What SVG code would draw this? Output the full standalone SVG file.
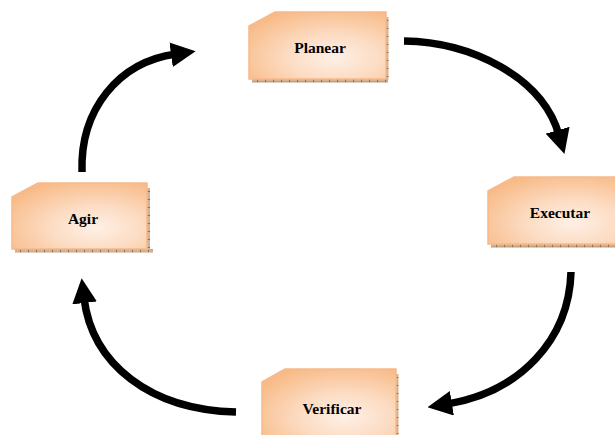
<svg xmlns="http://www.w3.org/2000/svg" width="615" height="435" viewBox="0 0 615 435">
  <defs>
    <radialGradient id="boxFill" cx="0.62" cy="0.68" r="0.75" fx="0.62" fy="0.68">
      <stop offset="0" stop-color="#fef0e6"/>
      <stop offset="0.45" stop-color="#fcdcc3"/>
      <stop offset="1" stop-color="#f8bb88"/>
    </radialGradient>
    <pattern id="hatchH" width="8" height="4" patternUnits="userSpaceOnUse">
      <rect width="8" height="4" fill="#d3b393"/>
      <rect x="0" y="0" width="1" height="4" fill="#8e6e50"/>
      <rect x="0" y="1.5" width="8" height="1" fill="#b08c6c"/>
    </pattern>
    <pattern id="hatchV" width="3" height="8" patternUnits="userSpaceOnUse">
      <rect width="3" height="8" fill="#d3b393"/>
      <rect x="0" y="0" width="3" height="1" fill="#8e6e50"/>
    </pattern>
    <path id="box" d="M0,14 L26,0 L137,0 L137,67 L0,67 Z"/>
    <marker id="head" viewBox="0 0 10 10" refX="2" refY="5" markerWidth="3.3" markerHeight="3.3" orient="auto" markerUnits="strokeWidth">
      <path d="M0,0 L10,5 L0,10 Z" fill="#000"/>
    </marker>
  </defs>
  <style>
    .shape { fill: url(#boxFill); stroke: #f7b98a; stroke-width: 1.5; }
    .shadowH { fill: url(#hatchH); }
    .shadowV { fill: url(#hatchV); }
    .label { font-family: "Liberation Serif", "Times New Roman", serif; font-weight: bold; font-size: 15.5px; fill: #000; text-anchor: middle; }
    .flow { fill: none; stroke: #000; stroke-width: 7.5; marker-end: url(#head); }
  </style>

  <g id="connectors">
    <path class="flow" d="M404,41 C470,42 542,76 559,135"/>
    <path class="flow" d="M571,272 C569,340 520,392 447,404"/>
    <path class="flow" d="M236,412 C150,410 92,364 84,298"/>
    <path class="flow" d="M82,172 C80,110 118,62 176,54"/>
  </g>

  <g id="planear" transform="translate(249,12)">
    <rect class="shadowH" x="3" y="67" width="136" height="3.5"/>
    <rect class="shadowV" x="137" y="5" width="2.5" height="63"/>
    <use href="#box" class="shape"/>
    <text class="label" x="71" y="41">Planear</text>
  </g>

  <g id="executar" transform="translate(488,177)">
    <rect class="shadowH" x="3" y="67" width="136" height="3.5"/>
    <rect class="shadowV" x="137" y="5" width="2.5" height="63"/>
    <use href="#box" class="shape"/>
    <text class="label" x="72" y="41">Executar</text>
  </g>

  <g id="verificar" transform="translate(262,369)">
    <rect class="shadowV" x="134" y="5" width="2.5" height="63"/>
    <path class="shape" d="M0,13 L23,0 L134,0 L134,70 L0,70 Z"/>
    <text class="label" x="70" y="45">Verificar</text>
  </g>

  <g id="agir" transform="translate(12,183)">
    <rect class="shadowH" x="3" y="66" width="138" height="3.5"/>
    <rect class="shadowV" x="135" y="5" width="3" height="62"/>
    <path class="shape" d="M0,14 L26,0 L135,0 L135,66 L0,66 Z"/>
    <text class="label" x="71" y="41">Agir</text>
  </g>
</svg>
